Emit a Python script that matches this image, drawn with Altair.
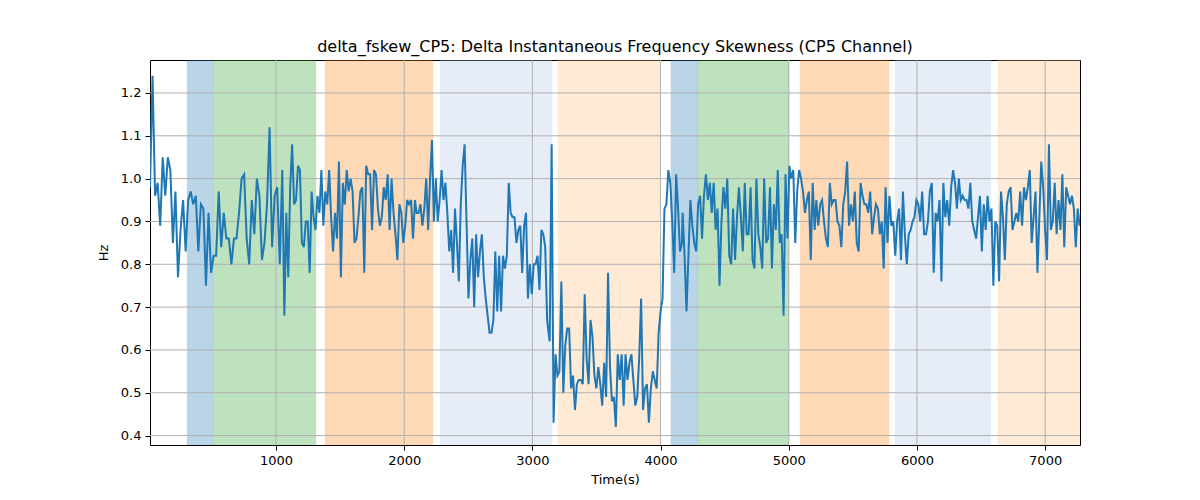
import altair as alt
import numpy as np
import pandas as pd

TITLE = "delta_fskew_CP5: Delta Instantaneous Frequency Skewness (CP5 Channel)"

# segment time ranges (s) and traced values (Hz)
SEG_T = [(17, 1049), (1065, 2084), (2097, 3130), (3135, 4167),
         (4172, 5202), (5215, 6236), (6252, 7269)]

SEG1 = [0.98, 1.24, 0.96, 0.99, 0.89, 1.05, 0.96, 1.05, 1.02, 0.85, 0.97, 0.77, 0.88, 0.95,
        0.83, 0.95, 0.97, 0.94, 0.96, 0.83, 0.94, 0.93, 0.75, 0.92, 0.78, 0.82, 0.82, 0.97,
        0.84, 0.92, 0.86, 0.86, 0.80, 0.86, 0.86, 0.92, 1.00, 1.01, 0.86, 0.80, 0.95, 0.87,
        1.00, 0.96, 0.81, 0.85, 0.94, 1.12, 0.84, 0.96, 0.98, 0.80, 1.02]
SEG2 = [0.68, 0.92, 0.77, 0.98, 1.08, 0.94, 0.95, 1.03, 1.02, 0.85, 0.84, 0.90, 0.90, 0.78,
        0.97, 0.91, 0.88, 0.96, 0.92, 1.02, 0.89, 0.97, 0.94, 1.02, 0.91, 0.83, 0.92, 0.86,
        1.04, 0.77, 0.99, 0.94, 1.02, 0.97, 1.00, 0.97, 0.85, 0.86, 0.91, 0.97, 0.98, 0.78,
        1.03, 1.01, 1.01, 0.88, 1.02, 1.01, 0.93, 0.89, 0.91, 0.98, 0.95, 1.01, 0.88, 1.00,
        0.92, 0.87, 0.81, 0.94, 0.92, 0.85, 0.89, 0.95, 0.94, 0.95, 0.86, 0.95]
SEG3 = [0.92, 0.92, 0.94, 0.89, 0.93, 1.00, 0.88, 1.00, 1.09, 0.90, 1.00, 0.90, 0.95, 1.02,
        0.95, 0.99, 0.92, 0.83, 0.88, 0.78, 0.93, 0.85, 0.76, 0.94, 1.03, 1.08, 0.90, 0.72,
        0.81, 0.86, 0.70, 0.87, 0.77, 0.83, 0.87, 0.77, 0.72, 0.68, 0.64, 0.64, 0.67, 0.83,
        0.69, 0.82, 0.69, 0.82, 0.79, 0.82, 0.99, 0.92, 0.91, 0.91, 0.85, 0.88, 0.89, 0.78,
        0.89, 0.92, 0.72, 0.80, 0.73, 0.80, 0.80, 0.82, 0.74, 0.88, 0.87, 0.84, 0.67, 0.63]
SEG4 = [0.62, 1.08, 0.43, 0.59, 0.54, 0.55, 0.76, 0.50, 0.61, 0.65, 0.65, 0.51, 0.54, 0.46,
        0.52, 0.53, 0.53, 0.52, 0.73, 0.58, 0.52, 0.67, 0.63, 0.54, 0.51, 0.56, 0.52, 0.47,
        0.57, 0.49, 0.78, 0.56, 0.48, 0.49, 0.42, 0.59, 0.53, 0.59, 0.47, 0.59, 0.53, 0.57,
        0.59, 0.53, 0.47, 0.49, 0.58, 0.72, 0.46, 0.51, 0.52, 0.43, 0.51, 0.55, 0.53, 0.51,
        0.64, 0.69, 0.72, 0.93, 0.94, 1.02, 0.99, 0.90, 0.78, 1.01, 0.93, 0.83, 0.85]
SEG5 = [0.92, 0.82, 0.69, 0.82, 0.95, 0.89, 0.85, 0.83, 0.94, 0.96, 0.86, 0.96, 1.01, 0.95,
        0.99, 0.92, 0.99, 0.88, 0.93, 0.75, 0.90, 0.98, 0.93, 1.00, 0.82, 0.80, 0.93, 0.81,
        0.91, 0.98, 0.91, 0.83, 0.99, 0.87, 0.87, 0.98, 0.81, 0.79, 1.00, 0.87, 0.84, 0.79,
        1.00, 0.85, 0.86, 0.98, 0.79, 0.94, 0.88, 1.02, 0.85, 0.87, 0.68, 1.01, 0.86, 1.03,
        1.00, 1.02, 0.85, 0.97, 1.02, 1.00, 0.97, 0.92, 0.95, 0.97, 0.81, 0.99, 0.88]
SEG6 = [0.95, 0.89, 0.94, 0.95, 0.90, 0.86, 0.84, 0.99, 0.94, 0.95, 0.95, 0.90, 0.89, 0.84,
        0.94, 0.97, 1.04, 0.89, 0.94, 0.90, 0.97, 0.85, 0.83, 0.99, 0.96, 0.94, 0.94, 0.92,
        0.97, 0.87, 0.91, 0.94, 0.93, 0.87, 0.90, 0.79, 0.98, 0.85, 0.96, 0.89, 0.90, 0.82,
        0.90, 0.93, 0.81, 0.97, 0.87, 0.80, 0.87, 0.88, 0.90, 0.91, 0.95, 0.94, 0.90, 0.97,
        0.87, 0.87, 0.90, 0.97, 0.99, 0.78, 0.92, 0.90, 0.95, 0.76, 0.99, 0.91, 0.95]
SEG7 = [0.89, 0.98, 1.02, 0.99, 0.93, 1.00, 0.95, 0.96, 0.95, 0.95, 0.93, 0.99, 0.90, 0.88,
        0.86, 0.91, 0.96, 0.83, 0.94, 0.88, 0.96, 0.90, 0.93, 0.75, 0.90, 0.89, 0.76, 0.97,
        0.91, 0.81, 0.94, 0.97, 0.98, 0.88, 0.90, 0.92, 0.90, 0.97, 0.89, 0.98, 0.95, 0.98,
        1.02, 0.85, 0.91, 0.97, 0.78, 0.91, 1.04, 0.98, 0.88, 0.81, 1.08, 0.88, 0.90, 0.99,
        0.87, 0.95, 0.88, 1.01, 0.84, 0.98, 0.96, 0.94, 0.96, 0.93, 0.84, 0.93, 0.89]

SPAN_START = [306, 509, 1382, 2280, 3200, 4080, 4292, 5088, 5829, 6632]
SPAN_END = [509, 1312, 2225, 3153, 3995, 4292, 5002, 5782, 6578, 7272]
SPAN_KIND = ["k1", "k2", "k3", "k4", "k5", "k1", "k2", "k3", "k4", "k5"]
KIND_COLORS = ["#1f77b4", "#2ca02c", "#ff7f0e", "#aec7e8", "#ffbb78"]

X_TICKS = [1000, 2000, 3000, 4000, 5000, 6000, 7000]
Y_TICKS = [0.4, 0.5, 0.6, 0.7, 0.8, 0.9, 1.0, 1.1, 1.2]
X_DOMAIN = [17, 7272]
Y_DOMAIN = [0.378, 1.277]

times, vals = [], []
for (t0, t1), seg in zip(SEG_T, [SEG1, SEG2, SEG3, SEG4, SEG5, SEG6, SEG7]):
    times.extend(np.linspace(t0, t1, len(seg)).tolist())
    vals.extend(seg)
line_df = pd.DataFrame({"t": times, "v": vals})
span_df = pd.DataFrame({"s": SPAN_START, "e": SPAN_END, "k": SPAN_KIND})
xg_df = pd.DataFrame({"x": X_TICKS})
yg_df = pd.DataFrame({"y": Y_TICKS})

xs = alt.Scale(domain=X_DOMAIN, nice=False, zero=False)
ys = alt.Scale(domain=Y_DOMAIN, nice=False, zero=False)
FONT = "DejaVu Sans"

XAX = alt.Axis(values=X_TICKS, format="d", grid=False, domain=False,
               tickColor="black", tickSize=5, labelPadding=4,
               labelFontSize=13, labelFont=FONT, labelColor="black",
               titleFont=FONT, titleFontSize=13, titleFontWeight="normal",
               titleColor="black", titlePadding=6, labelFlush=False)
YAX = alt.Axis(values=Y_TICKS, format=".1f", grid=False, domain=False,
               tickColor="black", tickSize=5, labelPadding=4,
               labelFontSize=13, labelFont=FONT, labelColor="black",
               titleFont=FONT, titleFontSize=13, titleFontWeight="normal",
               titleColor="black", titlePadding=10, labelFlush=False)

KSCALE = alt.Scale(domain=["k1", "k2", "k3", "k4", "k5"], range=KIND_COLORS)

spans = alt.Chart(span_df).mark_rect(opacity=0.3, strokeWidth=1, strokeOpacity=0.3, clip=True).encode(
    x=alt.X("s:Q", scale=xs, axis=XAX, title="Time(s)"),
    x2="e:Q",
    color=alt.Color("k:N", scale=KSCALE, legend=None),
    stroke=alt.Stroke("k:N", scale=KSCALE, legend=None),
)

xgrid = alt.Chart(xg_df).mark_rule(color="#b0b0b0", strokeWidth=1).encode(
    x=alt.X("x:Q", scale=xs, axis=XAX, title="Time(s)")
)
ygrid = alt.Chart(yg_df).mark_rule(color="#b0b0b0", strokeWidth=1).encode(
    y=alt.Y("y:Q", scale=ys, axis=YAX, title="Hz")
)

line = alt.Chart(line_df).mark_line(color="#1f77b4", strokeWidth=2, clip=True).encode(
    x=alt.X("t:Q", scale=xs, axis=XAX, title="Time(s)"),
    y=alt.Y("v:Q", scale=ys, axis=YAX, title="Hz"),
)

chart = alt.layer(spans, xgrid, ygrid, line).properties(
    width=930, height=385,
    title=alt.TitleParams(TITLE, font=FONT, fontSize=16, fontWeight="normal", color="black", offset=5),
    padding={"left": 142, "top": 52, "right": 112, "bottom": 47},
    autosize=alt.AutoSizeParams(type="none"),
).configure_view(stroke="black", strokeWidth=1)

chart.save("out.html", embed_options={"renderer": "svg", "actions": False})
